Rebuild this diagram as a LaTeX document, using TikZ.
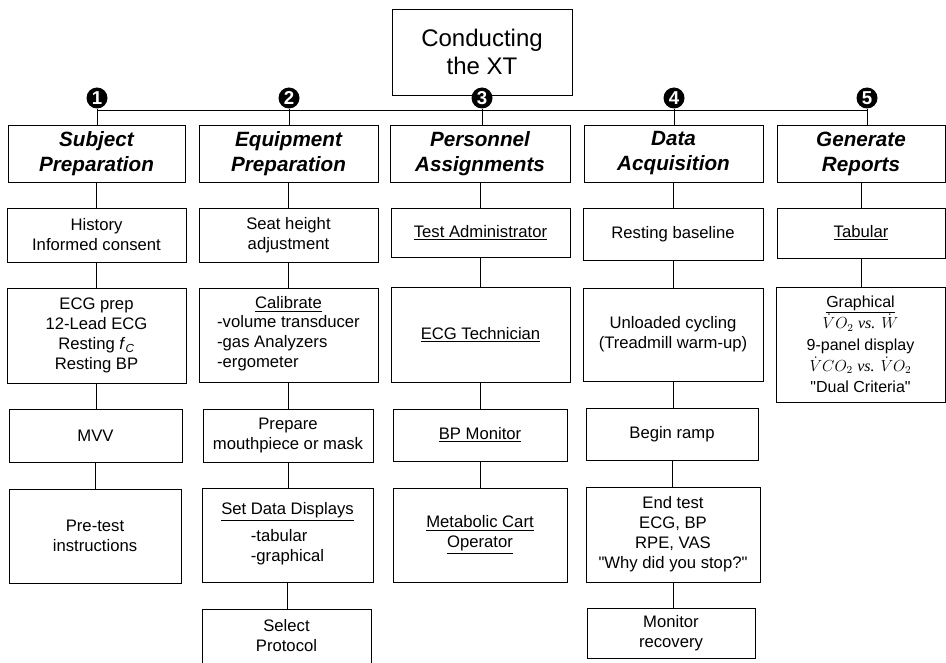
\documentclass[tikz,border=0pt]{standalone}
\usepackage{fontspec}
\setmainfont{Liberation Sans}
\newfontfamily\tms{Liberation Serif}

\tikzset{
  blk/.style 2 args={draw, line width=0.7pt, align=center, inner sep=1pt,
    minimum width=#1*0.75pt, minimum height=#2*0.75pt,
    font=\fontsize{12.5}{15}\selectfont},
  hdr/.style={font=\fontsize{15.5}{18.75}\selectfont\bfseries\itshape},
  num/.style={circle, fill=black, text=white, inner sep=0pt,
    minimum size=21*0.75pt, font=\fontsize{14}{14}\selectfont\bfseries},
  link/.style={line width=0.7pt}
}

\begin{document}
\begin{tikzpicture}[x=0.75pt,y=0.75pt,yscale=-1,xscale=1]
\useasboundingbox (0,0) rectangle (946,663);

%Title
\node[blk={180}{86}, font=\fontsize{18}{21}\selectfont] (xt) at (482,52) {Conducting\\the XT};

%Headers
\node[blk={177}{57}, hdr] (sp) at (96.5,153.5) {Subject\\Preparation};
\node[blk={179}{57}, hdr] (ep) at (288.5,153.5) {Equipment\\Preparation};
\node[blk={180}{57}, hdr] (pa) at (480,153.5) {Personnel\\Assignments};
\node[blk={179}{57}, hdr] (da) at (673.5,153.5) {Data\\Acquisition};
\node[blk={168}{57}, hdr] (gr) at (861,153.5) {Generate\\Reports};

%Column 1
\node[blk={179}{54}] (hist) at (96.5,235) {History\\Informed consent};
\node[blk={179}{95}] (ecg) at (96.5,335.5) {ECG prep\\12-Lead ECG\\Resting \textit{f}\textsubscript{\textit{C}}\\Resting BP};
\node[blk={173}{53}] (mvv) at (95.5,435.5) {MVV};
\node[blk={172}{94}] (pre) at (95,536) {Pre-test\\instructions};

%Column 2
\node[blk={179}{54}] (seat) at (288.5,235) {Seat height\\adjustment};
\node[blk={179}{94}] (cal) at (288.5,335) {\underline{Calibrate}\\
  \begin{tabular}{@{}l@{}}-volume transducer\\-gas Analyzers\\-ergometer\end{tabular}};
\node[blk={170}{53}] (mask) at (288,435.5) {Prepare\\mouthpiece or mask};
\node[blk={171}{94}] (disp) at (287.5,535) {\underline{Set Data Displays}\\[4pt]
  \begin{tabular}{@{}l@{}}-tabular\\-graphical\end{tabular}};
\node[blk={169}{54}] (prot) at (286.5,636) {Select\\Protocol};

%Column 3
\node[blk={179}{49}] (adm) at (480.5,232.5) {\underline{Test Administrator}};
\node[blk={179}{95}] (tech) at (480.5,334.5) {\underline{ECG Technician}};
\node[blk={174}{52}] (bpm) at (480,435) {\underline{BP Monitor}};
\node[blk={174}{94}] (cart) at (480,535) {\underline{Metabolic Cart}\\\underline{Operator}};

%Column 4
\node[blk={180}{52}] (rest) at (673,234) {Resting baseline};
\node[blk={180}{93}] (unl) at (673,334.5) {Unloaded cycling\\(Treadmill warm-up)};
\node[blk={172}{52}] (ramp) at (672,434) {Begin ramp};
\node[blk={174}{95}] (stop) at (673,534.5) {End test\\ECG, BP\\RPE, VAS\\\textquotedbl Why did you stop?\textquotedbl};
\node[blk={168}{50}] (rec) at (671,633) {Monitor\\recovery};

%Column 5
\node[blk={168}{50}] (tab) at (861,233) {\underline{Tabular}};
\node[blk={169}{115}, font=\fontsize{12}{16}\selectfont] (gra) at (860.5,344.5) {\underline{Graphical}\\
  $\dot{V}O_2$ {\tms\itshape vs.} $\dot{W}$\\9-panel display\\
  $\dot{V}CO_2$ {\tms\itshape vs.} $\dot{V}O_2$\\\textquotedbl Dual Criteria\textquotedbl};

%Bus
\coordinate (bus) at (0,110);
\node[num] (n1) at (97,98) {1};
\node[num] (n2) at (289,98) {2};
\node[num] (n3) at (482,98) {3};
\node[num] (n4) at (674,98) {4};
\node[num] (n5) at (867,98) {5};
\draw[link] (n1 |- bus) -- (n5 |- bus);
\foreach \n/\h in {n1/sp,n2/ep,n3/pa,n4/da,n5/gr}
  \draw[link] (\n.south) -- (\n |- \h.north);

%Straight Lines
\foreach \a/\b in {sp/hist,hist/ecg,ecg/mvv,mvv/pre,
                   ep/seat,seat/cal,cal/mask,mask/disp,disp/prot,
                   pa/adm,adm/tech,tech/bpm,bpm/cart,
                   da/rest,rest/unl,unl/ramp,ramp/stop,stop/rec,
                   gr/tab,tab/gra}
  \draw[link] (\a.south) -- (\a.south |- \b.north);

\end{tikzpicture}
\end{document}
